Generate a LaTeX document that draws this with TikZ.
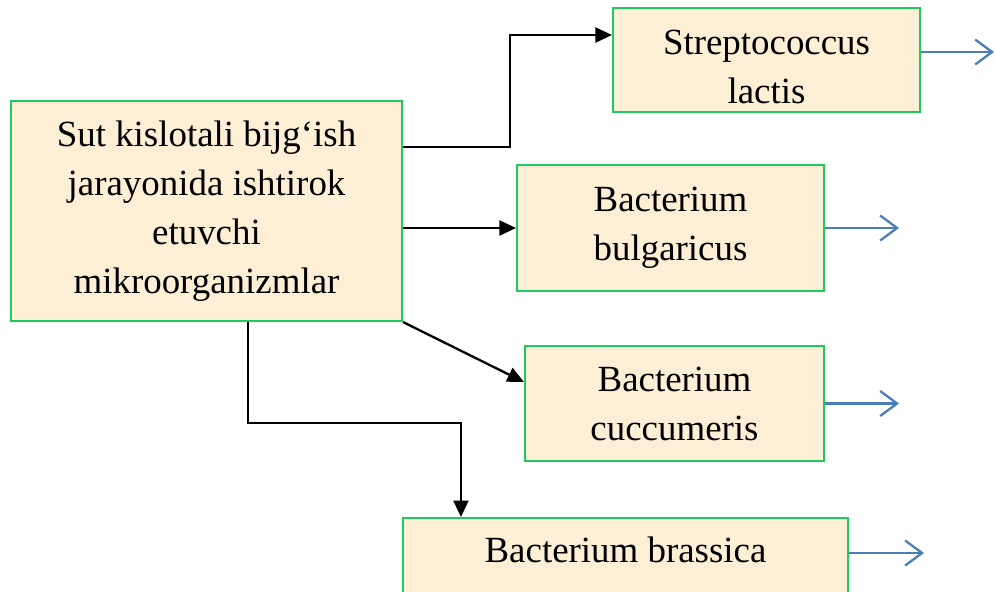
\documentclass[tikz,border=0pt]{standalone}
\usepackage{fontspec}
\setmainfont{Liberation Serif}
\usepackage{xcolor}
\usetikzlibrary{arrows.meta}
\definecolor{boxfill}{HTML}{FCEFD5}
\definecolor{boxline}{HTML}{1FC960}
\definecolor{outarrow}{HTML}{4A7EBB}

\begin{document}
\begin{tikzpicture}[
  every node/.style={inner sep=0pt, align=center, font=\fontsize{21}{27.9}\selectfont},
  microbe/.style={draw=boxline, fill=boxfill, line width=1.2pt},
  link/.style={line width=1.3pt, -{Triangle[length=3.3mm, width=3mm]}},
  outlink/.style={outarrow, line width=1.3pt, -{Straight Barb[length=3.4mm, width=5mm]}}]
\useasboundingbox (0,0) rectangle (19.9,11.82);
% === Boxes ===
\node[microbe, minimum width=7.82cm, minimum height=4.4cm] (main) at (4.13,7.6)
  {Sut kislotali bijg‘ish\\jarayonida ishtirok\\etuvchi\\mikroorganizmlar};
\node[microbe, minimum width=6.14cm, minimum height=2.08cm] (strep) at (15.33,10.62)
  {\rule{0pt}{0.78cm}Streptococcus\\lactis};
\node[microbe, minimum width=6.14cm, minimum height=2.52cm] (bulg) at (13.41,7.26)
  {Bacterium\\bulgaricus};
\node[microbe, minimum width=5.98cm, minimum height=2.3cm] (cucc) at (13.49,3.75)
  {Bacterium\\cuccumeris};
\node[microbe, minimum width=8.9cm, minimum height=1.9cm, anchor=north,
  text height=0.5cm, text depth=0.64cm] (brass) at (12.51,1.48)
  {Bacterium brassica};

% === Black links ===
\draw[link] ([yshift=1.28cm]main.east) -- ++(2.14,0) |- ([yshift=0.5cm]strep.west);
\draw[link] (main.east |- bulg.west) -- (bulg.west);
\draw[link] (main.south east) -- ([yshift=0.43cm]cucc.west);
\draw[link] ([xshift=0.83cm]main.south) -- ++(0,-2.02) -| ([xshift=1.18cm]brass.north west);

% === Blue outputs ===
\draw[outlink] ([yshift=0.16cm]strep.east) -- ++(1.46,0);
\draw[outlink] (bulg.east) -- ++(1.48,0);
\draw[outlink] (cucc.east) -- ++(1.48,0);
\draw[outlink] ([yshift=-0.72cm]brass.north east) -- ++(1.5,0);
\end{tikzpicture}
\end{document}
